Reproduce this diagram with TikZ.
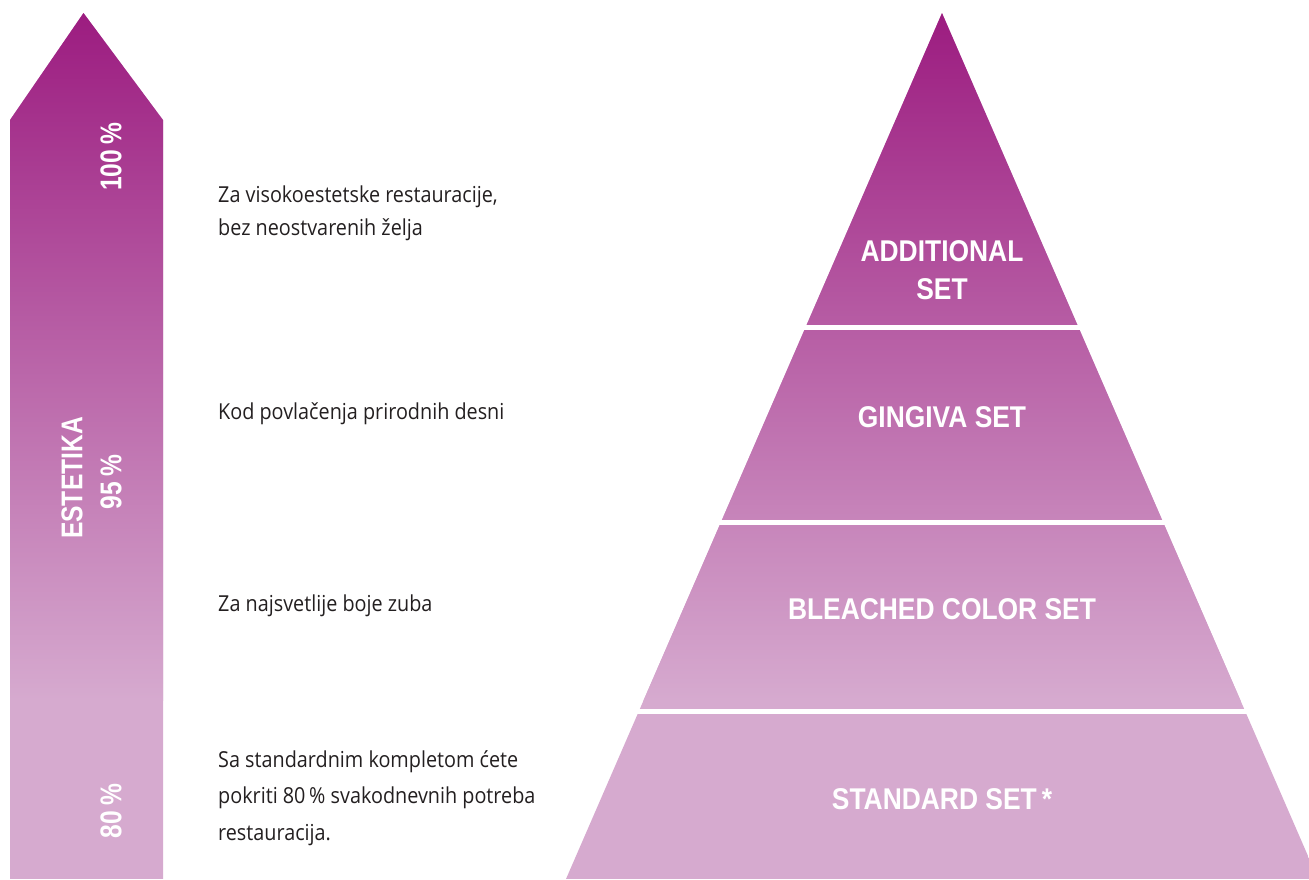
\documentclass[tikz,border=0pt]{standalone}
\usepackage{fontspec}
\setmainfont{Open Sans}[FakeStretch=0.9]
\newfontfamily\labelfont{Liberation Sans}[FakeStretch=0.88]
\newfontfamily\arrowfont{Liberation Sans}[FakeStretch=0.82]
\definecolor{topc}{HTML}{9C1C80}
\definecolor{botc}{HTML}{D6AACF}
\definecolor{txt}{HTML}{231F20}
\tikzset{
  desc/.style={anchor=west, inner sep=0pt, text=txt, align=left, font=\fontsize{22}{33}\selectfont},
  plab/.style={text=white, inner sep=0pt, align=center, font=\labelfont\bfseries\fontsize{30}{38}\selectfont},
  alab/.style={text=white, inner sep=0pt, align=center, rotate=90, font=\arrowfont\bfseries\fontsize{30}{38}\selectfont},
  gap/.style={fill=white}
}
\begin{document}
\begin{tikzpicture}[x=1pt,y=-1pt]
\useasboundingbox (0,0) rectangle (1309,879);
% shaded arrow and pyramid
\begin{scope}
  \clip (10,879) -- (10,120) -- (83.5,13) -- (163,120) -- (163,879) -- cycle
        (942,13) -- (566,879) -- (1318,879) -- cycle;
  \fill[botc] (0,0) rectangle (1309,879);
  \shade[top color=topc, bottom color=botc] (0,13) rectangle (1309,700);
\end{scope}
% white gaps between pyramid levels
\fill[gap] (560,325) rectangle (1309,330);
\fill[gap] (560,520) rectangle (1309,525);
\fill[gap] (560,709) rectangle (1309,714);
% arrow labels
\node[alab] (p100) at (111,157) {100\,\%};
\node[alab] (est) at (72,478) {ESTETIKA};
\node[alab] (p95) at (111,482) {95\,\%};
\node[alab] (p80) at (111,811) {80\,\%};
% pyramid labels
\node[plab] (add) at (942,270) {ADDITIONAL\\SET};
\node[plab] (ging) at (942,417) {GINGIVA SET};
\node[plab] (blea) at (942,609) {BLEACHED COLOR SET};
\node[plab] (stan) at (942,799) {STANDARD SET\,*};
% descriptions
\node[desc] (d1) at (218,213) {Za visokoestetske restauracije,\\bez neostvarenih želja};
\node[desc] (d2) at (218,414) {Kod povlačenja prirodnih desni};
\node[desc] (d3) at (218,606) {Za najsvetlije boje zuba};
\node[desc, font=\fontsize{22}{36.5}\selectfont] (d4) at (218,798) {Sa standardnim kompletom ćete\\pokriti 80\,\% svakodnevnih potreba\\restauracija.};
\end{tikzpicture}
\end{document}
